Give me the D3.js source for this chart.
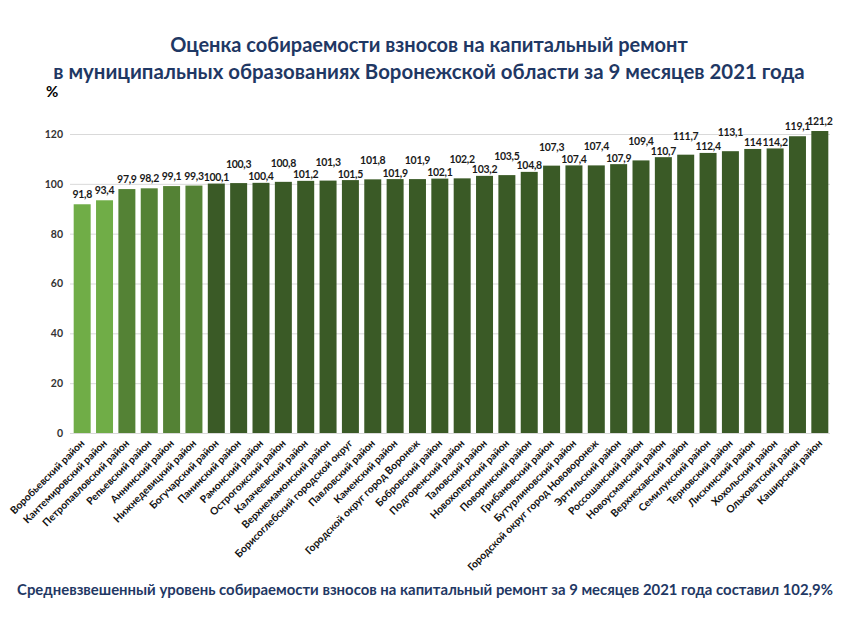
<!DOCTYPE html>
<html><head><meta charset="utf-8">
<script src="https://cdn.jsdelivr.net/npm/d3@7/dist/d3.min.js"></script>
<style>body{margin:0;background:#fff}svg{display:block}text{font-family:Lato,"Open Sans",sans-serif;font-weight:bold}</style>
</head><body>
<script>
const districts = ["Воробьевский район","Кантемировский район","Петропавловский район","Репьевский район","Аннинский район","Нижнедевицкий район","Богучарский район","Панинский район","Рамонский район","Острогожский район","Калачеевский район","Верхнемамонский район","Борисоглебский городской округ","Павловский район","Каменский район","Городской округ город Воронеж","Бобровский район","Подгоренский район","Таловский район","Новохоперский район","Поворинский район","Грибановский район","Бутурлиновский район","Городской округ город Нововоронеж","Эртильский район","Россошанский район","Новоусманский район","Верхнехавский район","Семилукский район","Терновский район","Лискинский район","Хохольский район","Ольховатский район","Каширский район"];
const values = [91.8,93.4,97.9,98.2,99.1,99.3,100.1,100.3,100.4,100.8,101.2,101.3,101.5,101.8,101.9,101.9,102.1,102.2,103.2,103.5,104.8,107.3,107.4,107.4,107.9,109.4,110.7,111.7,112.4,113.1,114,114.2,119.1,121.2];
const yTicks = [0,20,40,60,80,100,120];
const titleLines = ["Оценка собираемости взносов на капитальный ремонт","в муниципальных образованиях Воронежской области за 9 месяцев 2021 года"];
const footer = "Средневзвешенный уровень собираемости взносов на капитальный ремонт за 9 месяцев 2021 года составил 102,9%";

const W=850,H=620;
const svg=d3.select("body").append("svg").attr("width",W).attr("height",H);
const x=d3.scaleBand().domain(districts).range([71,831]).paddingInner(0.24).paddingOuter(0.12);
const y=d3.scaleLinear().domain([0,120]).range([433,134]);

// title
svg.selectAll(".title").data(titleLines).join("text")
 .attr("x",429).attr("y",(d,i)=>52+i*27).attr("text-anchor","middle")
 .attr("fill","#1f3864").attr("font-size",(d,i)=>i?20.4:20).text(d=>d);
svg.append("text").attr("x",46).attr("y",97).attr("font-size",15).attr("fill","#000").text("%");

// grid + y axis
const ya=svg.append("g").attr("transform","translate(70,0)")
 .call(d3.axisLeft(y).tickValues(yTicks).tickSize(-760).tickPadding(7));
ya.select(".domain").remove();
ya.selectAll("line").attr("stroke","#d9d9d9");
ya.selectAll("text").attr("font-size",10.5).attr("fill","#333").attr("font-family","Lato,sans-serif").attr("font-weight","bold");

const color=i=> i<2?"#70ad47": i<6?"#548235":"#3a5a26";
svg.selectAll(".bar").data(values).join("rect")
 .attr("x",(d,i)=>x(districts[i])).attr("width",x.bandwidth())
 .attr("y",d=>y(d)).attr("height",d=>y(0)-y(d)).attr("fill",(d,i)=>color(i));

const off=i=> (i>=7&&i<=29&&i%2===1)?15:(i>=6&&i<=31)?2.5:6;
svg.selectAll(".lbl").data(values).join("text")
 .attr("x",(d,i)=>x(districts[i])+x.bandwidth()/2).attr("y",(d,i)=>y(d)-off(i))
 .attr("text-anchor","middle").attr("font-size",10.5).attr("letter-spacing",-0.3).attr("fill","#1a1a1a")
 .text(d=>String(d).replace(".",","));

// x labels
svg.selectAll(".xl").data(districts).join("text")
 .attr("transform",d=>`translate(${x(d)+x.bandwidth()/2+3},${444}) rotate(-45)`)
 .attr("text-anchor","end").attr("font-size",10.3).attr("fill","#111").text(d=>d);

svg.append("text").attr("x",425).attr("y",595).attr("text-anchor","middle")
 .attr("font-size",14.9).attr("fill","#1f3864").text(footer);
</script>
</body></html>
